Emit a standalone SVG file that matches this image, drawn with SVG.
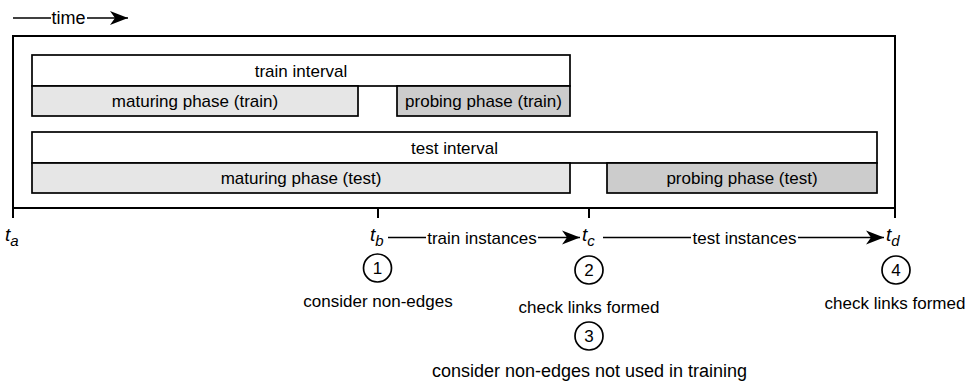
<svg xmlns="http://www.w3.org/2000/svg" width="972" height="384" viewBox="0 0 972 384">
<defs>
<marker id="arr" markerUnits="userSpaceOnUse" markerWidth="22" markerHeight="18" refX="18" refY="9" orient="auto" overflow="visible">
<path d="M0,2 L18,9 L0,16 L5,9 Z" fill="#000"/>
</marker>
<style>
text{font-family:"Liberation Sans",Arial,sans-serif;font-size:17px;fill:#000}
.c{text-anchor:middle}
.box{fill:#fff;stroke:#000;stroke-width:1.7}
.mat{fill:#e6e6e6;stroke:#000;stroke-width:1.7}
.prb{fill:#cccccc;stroke:#000;stroke-width:1.7}
.ln{stroke:#000;stroke-width:1.7;fill:none}
.frame{stroke:#000;stroke-width:2;fill:none}
.circ{fill:#fff;stroke:#000;stroke-width:1.7}
.it{font-style:italic;font-size:19px}
.sub{font-size:15px}
.big{font-size:18px}
</style>
</defs>
<rect width="972" height="384" fill="#fff"/>

<g id="timeline">
<path class="frame" d="M13,218 L13,36 L895,36 L895,218 M13,208 L895,208 M378,208 L378,218 M589,208 L589,218"/>
</g>

<g id="train-interval"><rect class="box" x="32" y="55" width="538" height="31"/><text class="c" x="301" y="76.5">train interval</text></g>
<g id="maturing-train"><rect class="mat" x="32" y="86" width="326" height="30"/><text class="c" x="195" y="107">maturing phase (train)</text></g>
<g id="probing-train"><rect class="prb" x="397" y="86" width="173" height="30"/><text class="c" x="483.5" y="107">probing phase (train)</text></g>
<g id="test-interval"><rect class="box" x="32" y="132" width="845" height="31"/><text class="c" x="454.5" y="153.5">test interval</text></g>
<g id="maturing-test"><rect class="mat" x="32" y="163" width="538" height="30"/><text class="c" x="301" y="184">maturing phase (test)</text></g>
<g id="probing-test"><rect class="prb" x="607" y="163" width="270" height="30"/><text class="c" x="742" y="184">probing phase (test)</text></g>

<g id="ta"><text class="it" x="5" y="241">t<tspan class="sub" dy="5">a</tspan></text></g>
<g id="tb"><text class="it" x="370" y="241">t<tspan class="sub" dy="5">b</tspan></text></g>
<g id="tc"><text class="it" x="582" y="241">t<tspan class="sub" dy="5">c</tspan></text></g>
<g id="td"><text class="it" x="886" y="241">t<tspan class="sub" dy="5">d</tspan></text></g>

<g id="connectors">
<path class="ln" d="M13,18 L51,18"/>
<path class="ln" d="M87,18 L128,18" marker-end="url(#arr)"/>
<path class="ln" d="M388,237.5 L426,237.5"/>
<path class="ln" d="M538,237.5 L580,237.5" marker-end="url(#arr)"/>
<path class="ln" d="M603,237.5 L691,237.5"/>
<path class="ln" d="M798,237.5 L884,237.5" marker-end="url(#arr)"/>
<text class="big" x="51.5" y="24">time</text>
<text class="c" x="482" y="243.5">train instances</text>
<text class="c" x="744.5" y="243.5">test instances</text>
</g>

<g id="step1"><circle class="circ" cx="377.5" cy="268" r="14"/><text class="c" x="377.5" y="274">1</text><text class="c" x="378" y="307">consider non-edges</text></g>
<g id="step2"><circle class="circ" cx="589" cy="270" r="14"/><text class="c" x="589" y="276">2</text><text class="c" x="589" y="313">check links formed</text></g>
<g id="step3"><circle class="circ" cx="589" cy="336" r="14"/><text class="c" x="589" y="342">3</text><text class="c big" x="589.5" y="377">consider non-edges not used in training</text></g>
<g id="step4"><circle class="circ" cx="896" cy="270" r="14"/><text class="c" x="896" y="276">4</text><text class="c" x="895" y="309">check links formed</text></g>
</svg>
